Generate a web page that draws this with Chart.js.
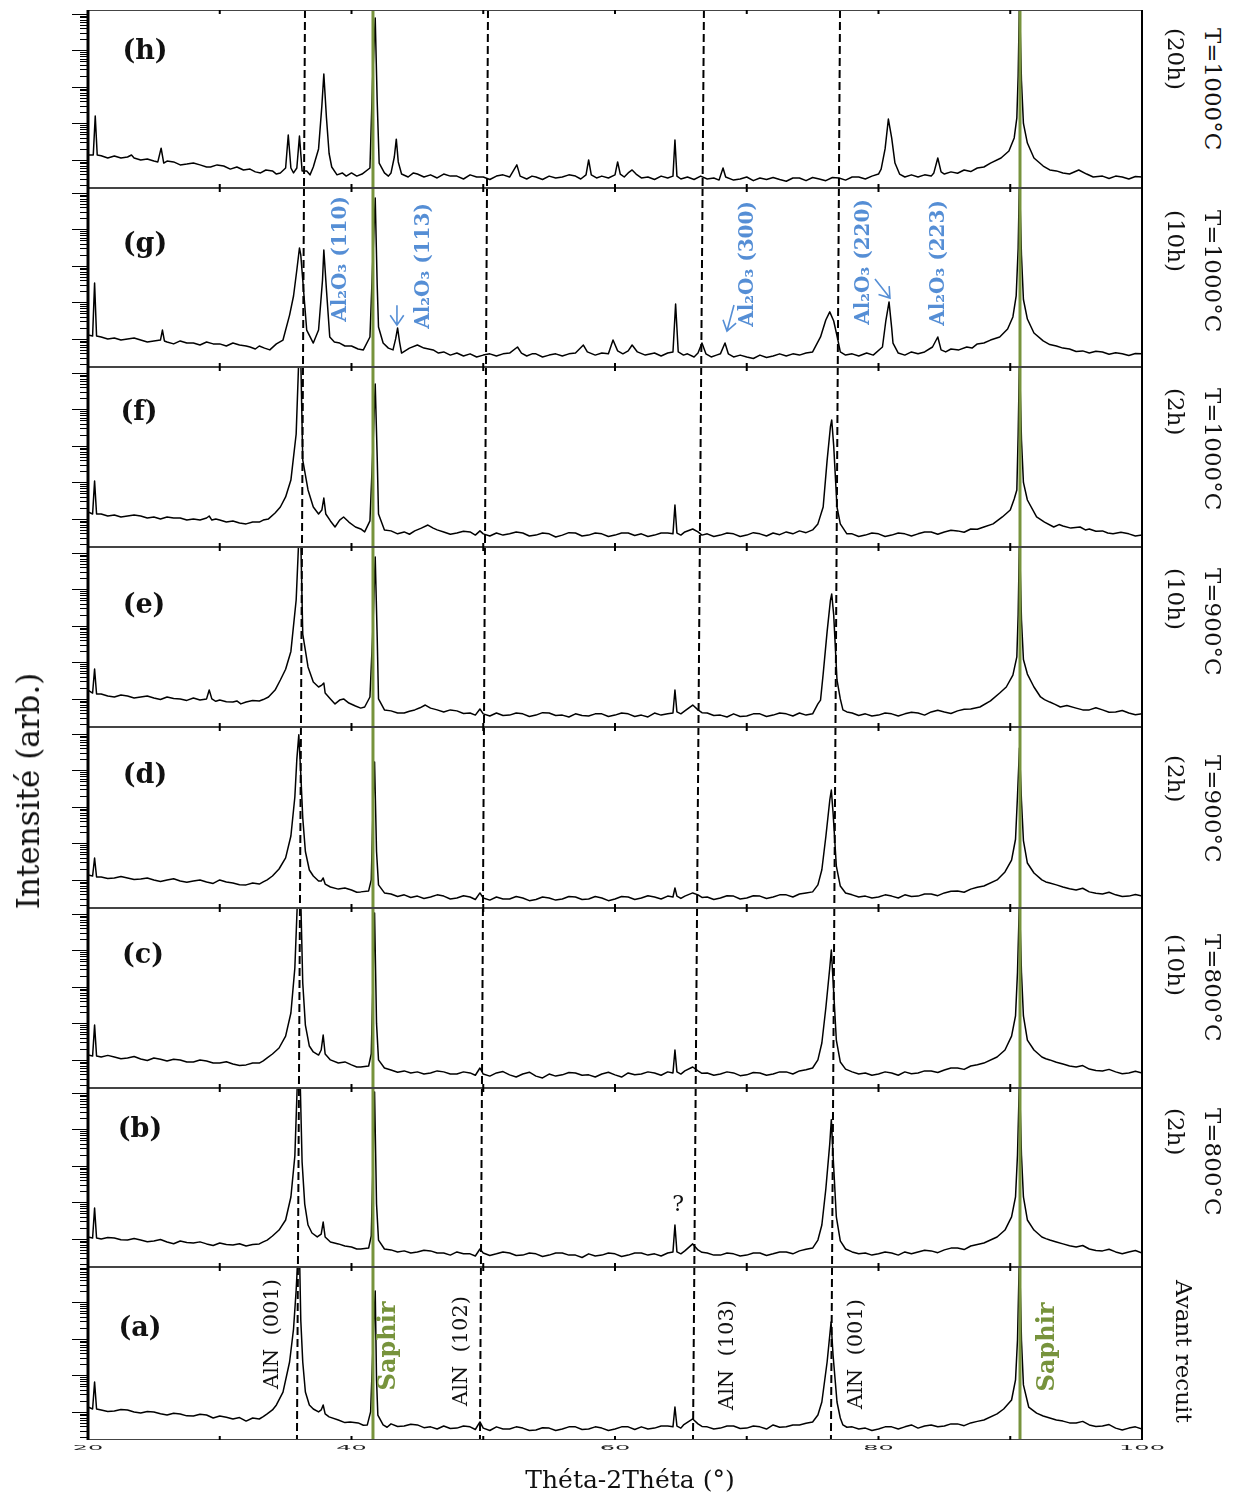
<!DOCTYPE html>
<html>
<head>
<meta charset="utf-8">
<script src="https://cdn.jsdelivr.net/npm/chart.js@4.4.0/dist/chart.umd.min.js"></script>
<style>
  body { margin: 0; background: #fff; width: 1244px; height: 1495px; position: relative; overflow: hidden; font-family: "DejaVu Serif", serif; }
  .panel { position: absolute; left: 0; width: 1180px; }
  .lbl { position: absolute; white-space: nowrap; color: #111; }
</style>
</head>
<body>
<script>
// ---- scans (2theta in degrees, intensity in arb. units, log scale) ----
const scanH = [[20,13.6],[20.4,13.6],[20.55,160],[20.7,13.6],[21,13],[21.5,11.3],[22,12.8],[22.5,11.3],[23,12],[23.3,13.6],[23.5,11.3],[24,10],[24.5,10.6],[25,9.3],[25.3,8.8],[25.55,21],[25.75,8.2],[26,9.3],[26.5,8.8],[27,7.3],[27.5,7.7],[28,8.2],[28.5,7.3],[29,6.4],[29.3,6.4],[29.8,7.3],[30.3,6.8],[30.8,5.6],[31.3,6.4],[31.8,5.3],[32.3,5.6],[32.7,4.7],[33.1,4.4],[33.5,5.3],[34,5],[34.3,4.1],[34.6,4.4],[35,6],[35.2,48],[35.4,6],[35.6,4.4],[35.85,6],[36.05,45],[36.25,5],[36.6,5],[36.85,3.9],[37.1,6.4],[37.5,20],[37.75,300],[37.9,2260],[38.1,141],[38.3,15],[38.5,6.4],[38.9,3.9],[39.3,4.4],[39.6,3.6],[40,4.4],[40.4,3.6],[40.8,4.1],[41.4,6],[41.6,1500],[41.8,77300],[41.95,400],[42.1,8.2],[42.5,4.4],[42.8,3.6],[43,4.4],[43.25,12],[43.4,37],[43.55,8.8],[43.8,4.1],[44.3,3.4],[44.7,4.4],[45,4.1],[45.5,3.4],[46,3.9],[46.5,3.2],[47,4.1],[47.5,3.6],[48,3.6],[48.5,3],[49,3.9],[49.5,3.4],[50,3.4],[50.5,2.9],[51,3.6],[51.5,3.9],[52,3.4],[52.55,7.3],[52.8,3.6],[53.3,3],[53.7,3.6],[54,3.4],[54.5,2.9],[55,3.6],[55.5,3.2],[56,3.4],[56.5,3.9],[57,3.6],[57.4,3],[57.8,3.9],[58,10],[58.2,3.9],[58.6,3.2],[59,3.6],[59.5,3.2],[60,3.9],[60.2,8.8],[60.4,4.1],[60.7,3.4],[61,4.4],[61.3,5.3],[61.6,4.1],[62,3.2],[62.5,3.4],[63,2.9],[63.5,3.6],[64,3.2],[64.4,3.6],[64.55,35],[64.7,3.6],[65,3],[65.5,3.4],[66,2.9],[66.5,3.6],[67,3],[67.5,3.2],[67.9,2.8],[68.2,6],[68.4,3.4],[69,2.8],[69.5,3],[70,3.4],[70.5,2.7],[71,3.2],[71.5,2.9],[72,3.3],[72.5,2.9],[73,2.6],[73.5,3.2],[74,3.2],[74.5,2.7],[75,3.3],[75.5,3],[76,2.7],[76.5,3.3],[77,3.2],[77.5,2.8],[78,3.4],[78.5,3.4],[79,3],[79.5,3.6],[80,4.1],[80.2,5.6],[80.5,20],[80.75,132],[81,40],[81.25,8.2],[81.6,4.1],[82,3.4],[82.5,3.9],[83,3.4],[83.5,3.9],[84,3.6],[84.2,4.4],[84.5,11.3],[84.75,4.7],[85,4.1],[85.5,4.7],[86,4.3],[86.5,5.3],[87,4.8],[87.5,6],[88,6.4],[88.5,8.2],[89.3,11.3],[89.9,17.5],[90.3,40],[90.5,141],[90.6,2000],[90.7,250000],[90.85,1500],[91,100],[91.3,29],[91.8,11.3],[92.5,6.8],[93,5.3],[93.5,5],[94,4.4],[94.5,4.1],[95.2,5.3],[95.8,4.1],[96.3,3.4],[97,3.6],[97.5,3.1],[98,3.6],[98.5,3.4],[99,3],[99.5,3.5],[100,3.4]];

const scanG = [[20,12.8],[20.35,12],[20.5,340],[20.65,12],[21,11.3],[21.5,10],[22,10.6],[22.5,9.3],[23,10],[23.5,10.6],[24,9.3],[24.5,8.2],[25,8.8],[25.5,9.3],[25.65,17.5],[25.8,8.8],[26,8.2],[26.5,7.3],[27,8.8],[27.5,7.7],[28,7.7],[28.5,6.8],[29,8.2],[29.5,7.3],[30,7.3],[30.5,6.4],[31,7.7],[31.5,6.8],[32,6.4],[32.3,6],[32.7,5.3],[33,6.4],[33.4,5.6],[33.8,5],[34.3,7.3],[34.8,9.3],[35.3,45],[35.6,150],[35.85,773],[36.05,3100],[36.15,2000],[36.3,411],[36.6,17.5],[37.1,7.7],[37.5,17.5],[37.8,411],[37.9,2730],[38.1,219],[38.35,11.3],[38.7,8.2],[39.1,7.7],[39.5,6.4],[40,6.4],[40.5,5.3],[40.9,5],[41.4,11.3],[41.6,1000],[41.8,72600],[41.95,300],[42.05,21.2],[42.4,7.7],[42.8,5.6],[43.15,5],[43.35,10],[43.5,19.9],[43.65,8.2],[43.8,4.1],[44.4,5.6],[45,6.8],[45.5,5.6],[46.2,5],[46.6,4.1],[47,4.4],[47.5,3.6],[48,4.1],[48.5,3.4],[49,3.9],[49.5,3.2],[50,3.6],[50.5,3.9],[51,3.4],[51.5,3.9],[52,4.1],[52.6,6],[52.9,4.1],[53.3,3.4],[53.7,3.9],[54,3.9],[54.5,3.2],[55,3.6],[55.5,3.9],[56,3.4],[56.5,3.9],[57,4.1],[57.6,6.8],[57.9,4.4],[58.5,3.6],[59,4.1],[59.5,3.9],[59.85,9.3],[60.2,4.7],[60.6,3.9],[61,4.7],[61.3,6.8],[61.7,4.4],[62.3,3.6],[63,4.1],[63.5,3.4],[64,4.1],[64.4,4.4],[64.6,90],[64.8,4.4],[65.2,3.6],[65.5,3.9],[66,3.2],[66.3,4.1],[66.6,7.7],[66.9,3.9],[67.3,3.2],[67.7,3.6],[68,3.9],[68.35,7.7],[68.6,3.9],[69,3.2],[69.5,3.6],[70,3.2],[70.5,2.9],[71,3.6],[71.5,3.1],[72,3.4],[72.5,3.9],[73,3.4],[73.5,3.9],[74,3.6],[74.5,4.1],[75,4.4],[75.6,11.3],[76,33],[76.3,55],[76.6,31],[76.9,10],[77.1,4.4],[77.5,3.6],[78,3.9],[78.5,3.4],[79.1,4.1],[79.6,3.6],[80.3,6],[80.55,30],[80.8,103],[81,20],[81.1,7.7],[81.5,4.1],[82,3.6],[82.5,4.4],[83,3.9],[83.5,4.4],[84.1,6],[84.5,11.3],[84.75,5],[85.1,4.4],[85.5,5.3],[86.1,5],[86.7,6],[87.1,5.6],[87.5,7.3],[88,7.7],[88.5,9.3],[89.2,11.3],[89.8,18.7],[90.2,40],[90.45,150],[90.6,3000],[90.7,250000],[90.85,2000],[91,120],[91.3,35],[91.8,14.5],[92.5,8.8],[93,7],[93.5,6.4],[94,5.6],[94.5,5.3],[95,4.5],[95.5,4.7],[96,4.1],[96.5,4.6],[97,4.4],[97.5,3.8],[98,4.2],[98.5,3.9],[99,3.5],[99.5,4],[100,3.9]];

const scanF = [[20,15.5],[20.35,13.6],[20.5,109],[20.65,13.6],[21,13.6],[21.5,12],[22,12.8],[22.5,11.3],[23,12],[23.5,12.8],[24,12],[24.5,10.6],[25,11.3],[25.5,10],[26,11.3],[26.5,10.6],[27,10.6],[27.5,9.3],[28,10],[28.5,9.3],[29,10.6],[29.2,12],[29.4,9.3],[29.7,10],[30,9.3],[30.5,8.2],[31,8.8],[31.5,7.7],[32,7.3],[32.5,8.2],[33,8.2],[33.3,9.3],[33.7,10],[34.2,14.5],[34.6,21.2],[35,40],[35.4,116],[35.8,2120],[36,250000],[36.15,250000],[36.3,411],[36.7,62],[37.1,21.2],[37.5,13.6],[37.75,17.5],[37.9,37.4],[38.05,13.6],[38.4,8.8],[38.75,6],[39.1,9.3],[39.4,11.3],[39.8,8.2],[40.3,6],[40.7,5.3],[41,4.4],[41.4,8.8],[41.6,500],[41.8,49700],[41.95,500],[42.05,13.6],[42.5,5],[43,4.7],[43.5,3.9],[44,4.4],[44.4,3.8],[44.8,4.7],[45.3,5.6],[45.8,6.8],[46.2,5.6],[46.5,5],[47,4.4],[47.5,3.8],[48,4.1],[48.5,4.6],[49,4.4],[49.4,3.6],[49.75,4.7],[50,3.9],[50.5,3.4],[51,4.1],[51.5,3.6],[52,3.9],[52.5,4.4],[53,4.1],[53.5,3.4],[54,3.6],[54.5,4.1],[55,3.9],[55.5,3.2],[56,3.6],[56.5,4.2],[57,4.1],[57.5,3.4],[58,3.6],[58.5,4.1],[59,3.9],[59.5,3.3],[60,3.6],[60.5,4.1],[61,4.1],[61.5,3.5],[62,3.9],[62.5,3.3],[63,3.6],[63.5,4.1],[64,4.1],[64.4,3.9],[64.55,24],[64.7,4.1],[65,3.6],[65.3,4.4],[65.9,5.3],[66.3,4.4],[66.6,3.6],[67,3.9],[67.5,3.3],[68,3.6],[68.5,4.1],[69,3.9],[69.5,3.3],[70,3.6],[70.5,4.2],[71,3.9],[71.5,3.4],[72,4.1],[72.5,3.7],[73,4.4],[73.5,3.9],[74,4.7],[74.5,4.2],[75,5],[75.4,7.3],[75.8,21.2],[76.1,400],[76.35,3300],[76.45,5130],[76.6,1000],[76.85,21.2],[77.1,7.3],[77.6,3.9],[78,3.9],[78.5,3.3],[79,3.6],[79.5,4.1],[80,3.9],[80.5,3.3],[81,3.6],[81.5,4.1],[82,3.9],[82.5,3.4],[83,3.9],[83.5,4.4],[84,4.4],[84.5,3.8],[85,4.4],[85.5,4.9],[86,4.7],[86.5,4.3],[87,5.3],[87.5,5.2],[88,6],[88.7,7.3],[89.4,11.3],[90,17.5],[90.3,35],[90.5,62],[90.6,2000],[90.7,250000],[90.85,1500],[91,100],[91.3,33],[92,11.3],[92.6,8.2],[93.3,6],[93.7,7],[94,6.4],[94.6,5.6],[95.3,6],[95.7,5],[96,5.3],[96.5,4.6],[97,4.7],[97.4,4.1],[97.8,3.9],[98.4,4.3],[99,3.9],[99.5,3.4],[100,3.6]];

const scanE = [[20,17.5],[20.35,14.5],[20.5,66],[20.65,13.6],[21,13.6],[21.5,12],[22,11.3],[22.5,12.8],[23,12],[23.5,10.6],[24,11.3],[24.5,12],[25,10.6],[25.5,9.6],[26,11.3],[26.5,10.2],[27,10],[27.5,9.1],[28,10.6],[28.5,9.3],[29,10],[29.2,17.5],[29.4,10],[29.7,8.6],[30,9.3],[30.5,8.4],[31,8.2],[31.3,8.8],[31.6,7.3],[32,8.2],[32.5,9],[33,8.8],[33.3,9.6],[33.7,11.3],[34.2,17.5],[34.6,33],[35,65],[35.4,200],[35.8,5130],[36,250000],[36.15,250000],[36.3,600],[36.7,75],[37.1,29],[37.5,21.2],[37.75,24],[37.9,27.3],[38,14.5],[38.4,10],[38.75,7.3],[39.1,9.3],[39.4,10],[39.8,7.7],[40.3,6.4],[40.7,5.6],[41,6],[41.4,11.3],[41.6,500],[41.8,77300],[41.95,500],[42.05,10],[42.5,5],[43,4.7],[43.5,4.1],[44,4.1],[44.4,4.6],[44.8,5],[45.2,5.7],[45.6,6.8],[46,5.6],[46.5,5],[47,4.4],[47.5,5],[48,4.7],[48.5,4],[49,4.1],[49.4,3.6],[49.75,5.3],[50,3.9],[50.5,3.4],[51,4.1],[51.5,3.5],[52,3.6],[52.5,4.1],[53,3.9],[53.5,3.3],[54,3.6],[54.5,4.2],[55,4.1],[55.5,3.5],[56,3.6],[56.5,3.2],[57,3.9],[57.5,3.5],[58,3.4],[58.5,3.9],[59,3.9],[59.5,3.3],[60,3.6],[60.5,4.1],[61,3.9],[61.5,3.3],[62,3.6],[62.5,3.2],[63,4.1],[63.5,3.6],[64,3.9],[64.4,4.1],[64.55,17.5],[64.7,4.4],[65,3.9],[65.3,4.7],[65.9,6.8],[66.3,5],[66.6,4.2],[67,4.1],[67.5,3.5],[68,3.6],[68.5,3.2],[69,3.9],[69.5,3.3],[70,3.4],[70.5,3.9],[71,3.9],[71.5,3.3],[72,3.6],[72.5,4.1],[73,3.9],[73.5,3.4],[74,4.1],[74.5,3.6],[75,3.9],[75.4,7.3],[75.6,9.3],[75.8,48],[76.1,700],[76.35,5000],[76.45,7490],[76.6,2000],[76.85,33],[77.1,10],[77.3,5],[77.6,4.4],[78,4.1],[78.5,3.5],[79,3.9],[79.5,3.4],[80,3.6],[80.5,4.1],[81,3.9],[81.5,3.4],[82,3.9],[82.5,4.3],[83,4.1],[83.5,3.6],[84,4.4],[84.5,4.9],[85,4.4],[85.5,4],[86,4.7],[86.5,5.2],[87,5.3],[87.7,6],[88.5,8.8],[89.2,14.5],[89.7,21.2],[90.2,45],[90.5,141],[90.6,2000],[90.7,250000],[90.85,1500],[91,120],[91.3,48],[91.8,21.2],[92.3,11.3],[92.6,9.6],[93,8.2],[93.4,7.1],[93.8,6],[94.3,6.6],[95,5.6],[95.5,5],[96,5],[96.5,5.7],[97,5],[97.5,4.3],[98,4.4],[98.5,4.8],[99,4.1],[99.5,3.7],[100,3.9]];

const scanD = [[20,13.6],[20.35,12.8],[20.5,39.8],[20.65,12],[21,12],[21.5,11],[22,11.3],[22.5,12.4],[23,11.3],[23.5,10.2],[24,10.6],[24.5,11.3],[25,10],[25.5,9.1],[26,10],[26.5,10.8],[27,9.3],[27.5,8.6],[28,9.3],[28.5,10],[29,8.8],[29.5,8],[30,10],[30.5,8.8],[31,8.2],[31.5,7.4],[32,7.3],[32.5,8.2],[33,7.7],[33.3,8.8],[33.6,10],[34,12.8],[34.5,19.9],[35,40],[35.4,160],[35.7,1870],[35.85,20000],[36,95000],[36.15,8000],[36.3,500],[36.5,60],[36.8,18.7],[37.1,12.8],[37.5,9.3],[37.7,9.3],[37.85,11.3],[38,7.7],[38.4,6.4],[39,5.6],[39.5,6],[40,5.3],[40.4,4.6],[40.7,4.7],[41.3,5],[41.5,10],[41.65,1500],[41.75,17000],[41.9,60],[42.05,7.3],[42.5,4.4],[43,4.1],[43.5,3.5],[44,3.9],[44.5,3.3],[45,3.6],[45.5,3.1],[46,3.4],[46.5,3.9],[47,3.6],[47.5,3],[48,3.2],[48.5,3.7],[49,3.4],[49.4,2.9],[49.75,4.4],[50,3.2],[50.5,2.8],[51,3.4],[51.5,3],[52,3],[52.5,3.5],[53,3.2],[53.5,2.7],[54,2.9],[54.5,3.4],[55,3.2],[55.5,2.8],[56,3],[56.5,3.5],[57,3.4],[57.5,2.9],[58,3],[58.5,3.5],[59,3.2],[59.5,2.7],[60,3],[60.5,3.5],[61,3.4],[61.5,2.9],[62,3.2],[62.5,3.7],[63,3.4],[63.5,3],[64,3.6],[64.4,3.4],[64.55,6],[64.7,3.6],[65,3.1],[65.3,3.6],[65.9,4.4],[66.3,3.9],[66.6,3.3],[67,3.4],[67.5,2.9],[68,3.2],[68.5,3.7],[69,3.6],[69.5,3],[70,3.2],[70.5,3.7],[71,3.6],[71.5,3.1],[72,3.4],[72.5,3.9],[73,3.9],[73.5,3.4],[74,4.1],[74.5,4.4],[75,4.7],[75.4,7.3],[75.7,19],[76,150],[76.3,1500],[76.42,2900],[76.55,700],[76.8,24],[77.1,6.8],[77.5,4.4],[78,3.9],[78.5,3.4],[79,3.6],[79.5,3.2],[80,3.4],[80.5,3.9],[81,3.6],[81.5,3.2],[82,3.9],[82.5,3.5],[83,3.6],[83.5,4.1],[84,4.1],[84.5,3.7],[85,4.4],[85.5,4.9],[86,5],[86.5,4.6],[87,5.6],[87.5,6.3],[88,6.8],[89,10],[89.6,16.5],[90.1,35],[90.4,130],[90.55,2000],[90.7,41000],[90.85,1500],[91,120],[91.3,29],[91.8,15.5],[92.4,10],[92.7,8.8],[93,8.2],[93.5,7.3],[94,6.4],[94.5,5.7],[95,5.3],[95.5,5.9],[96,4.7],[96.5,4.3],[97,4.1],[97.5,4.6],[98,3.9],[98.5,3.5],[99,3.6],[99.5,4],[100,3.6]];

const scanC = [[20,13.6],[20.35,12.8],[20.5,90],[20.65,12.8],[21,12],[21.5,13.3],[22,12],[22.5,10.8],[23,11.3],[23.5,12.4],[24,10.6],[24.5,9.6],[25,11.3],[25.5,10.4],[26,9.3],[26.5,10.4],[27,10],[27.5,8.8],[28,8.8],[28.5,9.9],[29,9.3],[29.5,8.2],[30,8.2],[30.5,8.9],[31,7.7],[31.5,7],[32,7.3],[32.5,8.2],[33,8.2],[33.3,9.4],[33.6,11.3],[34,14.5],[34.5,21.2],[35,45],[35.4,193],[35.7,3300],[35.9,250000],[36.15,250000],[36.3,1280],[36.5,90],[36.8,24],[37.1,16.5],[37.5,13.6],[37.7,18.7],[37.85,48],[38,14.5],[38.4,10],[39,8.2],[39.5,8.8],[40,7.3],[40.4,6.4],[40.7,6.4],[41.3,6.8],[41.5,14.5],[41.65,2500],[41.75,106000],[41.9,100],[42.05,10],[42.5,6],[43,5.3],[43.5,4.6],[44,5],[44.5,4.4],[45,4.7],[45.5,4.1],[46,4.4],[46.5,5],[47,4.7],[47.5,4.1],[48,4.1],[48.5,4.7],[49,4.4],[49.4,3.8],[49.75,6],[50,4.1],[50.5,3.6],[51,4.4],[51.5,4.8],[52,3.9],[52.5,3.4],[53,4.1],[53.5,4.6],[54,3.6],[54.5,3.2],[55,4.1],[55.5,3.6],[56,3.9],[56.5,4.5],[57,4.4],[57.5,3.8],[58,3.9],[58.5,3.4],[59,4.1],[59.5,4.6],[60,3.9],[60.5,3.4],[61,4.4],[61.5,3.9],[62,4.1],[62.5,4.7],[63,4.4],[63.5,3.8],[64,4.7],[64.4,4.4],[64.55,18.7],[64.7,4.7],[65,4.1],[65.3,5],[65.9,6.4],[66.3,5],[66.6,4.3],[67,4.4],[67.5,3.8],[68,4.1],[68.5,4.7],[69,4.4],[69.5,3.7],[70,3.9],[70.5,4.5],[71,4.4],[71.5,3.8],[72,4.1],[72.5,4.7],[73,4.7],[73.5,4.1],[74,5],[74.5,5.4],[75,6],[75.4,10],[75.7,29],[76,260],[76.3,3300],[76.42,10260],[76.55,1500],[76.8,35],[77.1,8.8],[77.5,5.6],[78,4.7],[78.5,4.1],[79,4.4],[79.5,3.8],[80,4.1],[80.5,4.7],[81,4.4],[81.5,3.8],[82,4.7],[82.5,4.2],[83,4.4],[83.5,5],[84,5],[84.5,4.5],[85,5.3],[85.5,6],[86,6],[86.5,5.5],[87,6.8],[87.5,7.4],[88,8.2],[89,12],[89.6,18.7],[90.1,45],[90.4,160],[90.55,2500],[90.7,250000],[90.85,2500],[91,160],[91.3,35],[91.8,18.7],[92.4,12],[92.7,10.8],[93,10],[93.5,8.6],[94,7.7],[94.5,6.8],[95,6.4],[95.5,7],[96,5.6],[96.5,5.1],[97,5],[97.5,5.5],[98,4.7],[98.5,4.2],[99,4.4],[99.5,4.9],[100,4.4]];

const scanB = [[20,11.3],[20.35,10.6],[20.5,70],[20.65,10.6],[21,10],[21.5,11],[22,10.6],[22.5,9.5],[23,9.3],[23.5,10.2],[24,9.3],[24.5,8.4],[25,8.8],[25.5,9.6],[26,8.2],[26.5,7.4],[27,8.8],[27.5,8],[28,7.7],[28.5,8.3],[29,7.3],[29.5,6.6],[30,7.7],[30.5,7],[31,6.8],[31.5,7.4],[32,6.4],[32.5,7],[33,7.3],[33.3,8.3],[33.6,9.3],[34,12],[34.5,17.5],[35,33],[35.4,141],[35.7,1870],[35.9,250000],[36.1,250000],[36.25,1280],[36.45,90],[36.7,24],[37,14.5],[37.4,11.3],[37.7,13.6],[37.85,29],[38,11.3],[38.4,8.2],[39,7.3],[39.5,6.4],[40,6],[40.4,5.3],[40.7,5.3],[41.3,5.6],[41.5,12],[41.65,2000],[41.75,106000],[41.9,90],[42.05,9.3],[42.5,5.3],[43,5],[43.5,4.4],[44,4.7],[44.5,4.1],[45,4.4],[45.5,4.9],[46,4.7],[46.5,4.1],[47,4.1],[47.5,3.6],[48,4.4],[48.5,3.9],[49,3.9],[49.4,3.4],[49.75,5.3],[50,4.1],[50.5,3.5],[51,3.9],[51.5,4.4],[52,4.1],[52.5,3.5],[53,3.6],[53.5,4.1],[54,3.9],[54.5,3.3],[55,3.6],[55.5,4.1],[56,4.1],[56.5,3.6],[57,3.6],[57.5,3.1],[58,3.9],[58.5,3.4],[59,3.6],[59.5,4.1],[60,3.9],[60.5,3.3],[61,3.6],[61.5,4.1],[62,4.1],[62.5,3.6],[63,3.9],[63.5,3.4],[64,4.1],[64.4,4.4],[64.55,24],[64.7,4.4],[65,3.9],[65.3,4.7],[65.9,7.3],[66.3,5],[66.6,4.3],[67,4.1],[67.5,3.6],[68,3.6],[68.5,4.1],[69,3.9],[69.5,3.4],[70,3.6],[70.5,4.1],[71,4.1],[71.5,3.5],[72,3.9],[72.5,4.4],[73,4.4],[73.5,3.9],[74,4.7],[74.5,5.2],[75,5.6],[75.4,9.3],[75.7,24],[76,230],[76.3,4000],[76.42,18500],[76.55,2000],[76.8,40],[77.1,8.8],[77.5,5.3],[78,4.4],[78.5,3.9],[79,4.1],[79.5,3.6],[80,3.9],[80.5,4.4],[81,4.1],[81.5,3.6],[82,4.4],[82.5,3.9],[83,4.4],[83.5,4.9],[84,4.7],[84.5,4.2],[85,5],[85.5,5.6],[86,5.6],[86.5,5.1],[87,6.4],[87.5,7],[88,7.7],[89,11.3],[89.6,17.5],[90.1,40],[90.4,141],[90.55,2000],[90.7,250000],[90.85,2000],[91,141],[91.3,33],[91.8,17.5],[92.4,11.3],[92.7,10.2],[93,9.3],[93.5,8.2],[94,7.3],[94.5,6.5],[95,6],[95.5,6.6],[96,5.3],[96.5,4.8],[97,4.7],[97.5,5.2],[98,4.4],[98.5,3.9],[99,4.4],[99.5,4.8],[100,4.1]];

const scanA = [[20,13.6],[20.35,12],[20.5,66],[20.65,12],[21,11.3],[21.5,10.2],[22,10.6],[22.5,11.6],[23,11.3],[23.5,10],[24,9.3],[24.5,10.2],[25,10],[25.5,8.9],[26,8.2],[26.5,9.2],[27,8.8],[27.5,7.8],[28,7.7],[28.5,8.6],[29,8.2],[29.5,6.8],[30,7.7],[30.5,7.1],[31,6.4],[31.5,7],[32,5.6],[32.5,6.8],[33,6.4],[33.3,7.4],[33.6,8.8],[34,11.3],[34.3,15.5],[34.8,35],[35.3,233],[35.6,1870],[35.8,21900],[35.95,250000],[36.05,250000],[36.15,3300],[36.3,233],[36.5,35],[36.8,15.5],[37.1,12],[37.5,10],[37.7,11.3],[37.85,15.5],[38,8.8],[38.3,7.3],[39,6],[39.5,5.1],[39.9,5.3],[40.5,5],[40.9,4.3],[41.2,4.4],[41.45,10],[41.65,933],[41.8,20550],[41.9,75],[42,8.2],[42.4,4.4],[42.7,3.8],[43,4.7],[43.5,4],[44,4.1],[44.5,4.6],[45,4.4],[45.5,3.7],[46,3.9],[46.5,3.4],[47,4.1],[47.5,3.5],[48,3.6],[48.5,4.1],[49,3.9],[49.4,3.3],[49.75,5.3],[50,3.6],[50.5,3.1],[51,3.9],[51.5,3.4],[52,3.4],[52.5,3.9],[53,3.6],[53.5,3.1],[54,3.2],[54.5,3.7],[55,3.6],[55.5,3.1],[56,3.4],[56.5,3.9],[57,3.9],[57.5,3.3],[58,3.4],[58.5,3.9],[59,3.6],[59.5,3.1],[60,3.4],[60.5,3.9],[61,3.9],[61.5,3.3],[62,3.9],[62.5,3.4],[63,3.6],[63.5,4.1],[64,4.1],[64.4,3.9],[64.55,13.6],[64.7,4.1],[65,3.6],[65.2,4.4],[65.9,6.4],[66.3,4.7],[66.6,4],[67,3.9],[67.5,3.4],[68,3.6],[68.5,4.1],[69,4.1],[69.5,3.5],[70,3.6],[70.5,4.1],[71,3.9],[71.5,3.4],[72,4.4],[72.5,3.8],[73,3.9],[73.5,4.4],[74,4.4],[74.5,4.9],[75,5.3],[75.4,8.2],[75.7,18.7],[76.1,233],[76.4,2900],[76.55,362],[76.85,18.7],[77.1,6.8],[77.3,4.4],[77.6,3.8],[78,3.9],[78.5,3.4],[79,3.6],[79.5,3.1],[80,3.4],[80.5,3.9],[81,3.9],[81.5,3.4],[82,3.9],[82.5,4.4],[83,3.6],[83.5,4.1],[84,4.4],[84.5,3.9],[85,4.1],[85.5,4.7],[86,4.7],[86.5,4.2],[87,5],[87.5,5.5],[88,6],[89,8.8],[89.5,12],[90.1,21.2],[90.4,75],[90.55,933],[90.7,250000],[90.85,933],[91,55],[91.4,13.6],[92,9.3],[92.5,7.7],[93,6.8],[93.5,6],[94,5.6],[94.5,5],[95,5],[95.5,5.5],[96,4.4],[96.5,4],[97,4.1],[97.5,4.5],[98,3.6],[98.5,3.2],[99,3.6],[99.5,3.9],[100,3.4]];

// panel order from top to bottom
const scans = [scanH, scanG, scanF, scanE, scanD, scanC, scanB, scanA];
const panelLetters = ['(h)', '(g)', '(f)', '(e)', '(d)', '(c)', '(b)', '(a)'];
const tempLabels = ['T=1000°C', 'T=1000°C', 'T=1000°C', 'T=900°C', 'T=900°C', 'T=800°C', 'T=800°C', 'Avant recuit'];
const timeLabels = ['(20h)', '(10h)', '(2h)', '(10h)', '(2h)', '(10h)', '(2h)', ''];
const xTickLabels = [20, 40, 60, 80, 100];

// reference lines (degrees)
const sapphireLines = [41.63, 90.74];
const dashedLines = [[36.47, 35.86], [50.36, 49.75], [66.75, 65.92], [77.08, 76.39]]; // [top of figure, bottom of figure]

// layout
const panelEdges = [10, 188, 367, 547, 727, 908, 1088, 1267, 1440];
const Y_MIN = 1.7;
const DECADE_PX = 36.5;
const GREEN = '#77933C';
const BLUE = '#558ED5';
const letterPos = [[57, 42], [57, 57], [51, 46], [56, 59], [57, 49], [55, 48], [52, 42], [52, 62]];
const rightStart = [18, 22, 21, 21, 28, 26, 20, 13];

const notes = {
  7: [
    { text: 'AlN  (001)', deg: 33.97, dy: 67 },
    { text: 'Saphir', deg: 42.85, dy: 79, color: GREEN, bold: true },
    { text: 'AlN  (102)', deg: 48.39, dy: 84 },
    { text: 'AlN  (103)', deg: 68.58, dy: 88 },
    { text: 'AlN  (001)', deg: 78.37, dy: 87 },
    { text: 'Saphir', deg: 92.87, dy: 80, color: GREEN, bold: true }
  ],
  1: [
    { text: 'Al₂O₃ (110)', deg: 39.2, dy: 71, color: BLUE, bold: true },
    { text: 'Al₂O₃ (113)', deg: 45.5, dy: 78, color: BLUE, bold: true },
    { text: 'Al₂O₃ (300)', deg: 70.1, dy: 76, color: BLUE, bold: true },
    { text: 'Al₂O₃ (220)', deg: 78.9, dy: 74, color: BLUE, bold: true },
    { text: 'Al₂O₃ (223)', deg: 84.6, dy: 75, color: BLUE, bold: true }
  ]
};
// arrows in panel (g): tip in data coords, tail as pixel offset
const arrowsG = [
  { tip: [43.45, 21], tail: [0, -20] },
  { tip: [68.5, 14.5], tail: [7, -26] },
  { tip: [80.87, 116], tail: [-15, -19] }
];

function rotText(ctx, text, cx, cy, font, color) {
  ctx.save();
  ctx.translate(cx, cy);
  ctx.rotate(-Math.PI / 2);
  ctx.font = font;
  ctx.fillStyle = color;
  ctx.textAlign = 'center';
  ctx.textBaseline = 'middle';
  ctx.fillText(text, 0, 0);
  ctx.restore();
}

function makePlugin(idx) {
  const t = panelEdges[idx], b = panelEdges[idx + 1];
  const span = panelEdges[8] - panelEdges[0];
  return {
    id: 'panel' + idx,
    beforeDatasetsDraw(chart) {
      const { ctx, chartArea: a, scales: { x } } = chart;
      ctx.save();
      ctx.strokeStyle = '#000';
      ctx.lineWidth = 2;
      ctx.setLineDash([8, 4]);
      dashedLines.forEach(([d0, d1]) => {
        const dt = d0 + (d1 - d0) * (t - panelEdges[0]) / span;
        const db = d0 + (d1 - d0) * (b - panelEdges[0]) / span;
        ctx.beginPath();
        ctx.moveTo(x.getPixelForValue(dt), a.top);
        ctx.lineTo(x.getPixelForValue(db), a.bottom);
        ctx.stroke();
      });
      ctx.restore();
    },
    afterDatasetsDraw(chart) {
      const { ctx, chartArea: a, scales: { x, y } } = chart;
      ctx.save();
      // sapphire reference lines
      ctx.strokeStyle = GREEN;
      ctx.lineWidth = 3;
      sapphireLines.forEach(d => {
        const px = x.getPixelForValue(d);
        ctx.beginPath();
        ctx.moveTo(px, a.top);
        ctx.lineTo(px, a.bottom);
        ctx.stroke();
      });

      // frame
      ctx.strokeStyle = '#444';
      ctx.lineWidth = 1;
      ctx.strokeRect(a.left + 0.5, a.top + 0.5, a.right - a.left - 1, a.bottom - a.top - 1);
      ctx.strokeStyle = '#000';
      ctx.lineWidth = 3;
      ctx.beginPath();
      ctx.moveTo(a.left, a.top);
      ctx.lineTo(a.left, a.bottom);
      ctx.stroke();
      ctx.lineWidth = 2;
      ctx.beginPath();
      ctx.moveTo(a.right, a.top);
      ctx.lineTo(a.right, a.bottom);
      ctx.stroke();

      // log ticks on the left
      ctx.lineWidth = 1;
      for (let k = 0; k <= 6; k++) {
        for (let m = 1; m <= 9; m++) {
          const v = m * Math.pow(10, k);
          if (v < y.min || v > y.max) continue;
          const py = Math.round(y.getPixelForValue(v)) + 0.5;
          ctx.beginPath();
          ctx.moveTo(a.left - (m === 1 ? 16 : 8), py);
          ctx.lineTo(a.left, py);
          ctx.stroke();
        }
      }
      // small x ticks, top and bottom
      ctx.lineWidth = 2;
      for (let d = 30; d <= 90; d += 10) {
        const px = x.getPixelForValue(d);
        ctx.beginPath();
        ctx.moveTo(px, a.top); ctx.lineTo(px, a.top + 4);
        ctx.moveTo(px, a.bottom); ctx.lineTo(px, a.bottom - 4);
        ctx.stroke();
      }

      // panel letter
      ctx.font = 'bold 27px "DejaVu Serif"';
      ctx.fillStyle = '#111';
      ctx.textAlign = 'center';
      ctx.textBaseline = 'middle';
      ctx.fillText(panelLetters[idx], a.left + letterPos[idx][0], a.top + letterPos[idx][1]);

      // rotated notes
      (notes[idx] || []).forEach(n => {
        const font = (n.bold ? 'bold ' : '') + (idx === 1 ? '20px' : (n.bold ? '24px' : '21px')) + ' "DejaVu Serif"';
        rotText(ctx, n.text, x.getPixelForValue(n.deg), a.top + n.dy, font, n.color || '#111');
      });

      if (idx === 1) {
        ctx.strokeStyle = BLUE;
        ctx.lineWidth = 1.6;
        arrowsG.forEach(ar => {
          const tx = x.getPixelForValue(ar.tip[0]);
          const ty = y.getPixelForValue(ar.tip[1]) - 2;
          const sx = tx + ar.tail[0], sy = ty + ar.tail[1];
          const ang = Math.atan2(ty - sy, tx - sx);
          ctx.beginPath();
          ctx.moveTo(sx, sy);
          ctx.lineTo(tx, ty);
          ctx.moveTo(tx - 12 * Math.cos(ang - 0.6), ty - 12 * Math.sin(ang - 0.6));
          ctx.lineTo(tx, ty);
          ctx.lineTo(tx - 12 * Math.cos(ang + 0.6), ty - 12 * Math.sin(ang + 0.6));
          ctx.stroke();
        });
      }
      if (idx === 6) {
        ctx.font = '22px "DejaVu Serif"';
        ctx.fillStyle = '#111';
        ctx.fillText('?', x.getPixelForValue(64.8), a.top + 117);
      }
      if (idx === 7) {
        // flattened x tick labels under the last panel
        ctx.font = '24px "DejaVu Sans"';
        ctx.fillStyle = '#222';
        xTickLabels.forEach(v => {
          ctx.save();
          ctx.translate(x.getPixelForValue(v), a.bottom + 8);
          ctx.scale(1, 0.3);
          ctx.fillText(String(v), 0, 0);
          ctx.restore();
        });
      }
      ctx.restore();
    }
  };
}

scans.forEach((scan, idx) => {
  const t = panelEdges[idx], b = panelEdges[idx + 1];
  const padBottom = idx === 7 ? 30 : 20;
  const box = document.createElement('div');
  box.className = 'panel';
  box.style.top = (t - 20) + 'px';
  box.style.height = (b - t + 20 + padBottom) + 'px';
  const canvas = document.createElement('canvas');
  box.appendChild(canvas);
  document.body.appendChild(box);

  new Chart(canvas, {
    type: 'line',
    data: {
      datasets: [{
        data: scan.map(([deg, val]) => ({ x: deg, y: val })),
        borderColor: '#000',
        borderWidth: 1.5,
        borderJoinStyle: 'round',
        pointRadius: 0,
        tension: 0,
        fill: false
      }]
    },
    options: {
      animation: false,
      responsive: true,
      maintainAspectRatio: false,
      layout: { padding: { left: 88, right: 38, top: 20, bottom: padBottom } },
      plugins: { legend: { display: false }, tooltip: { enabled: false } },
      scales: {
        x: { type: 'linear', min: 20, max: 100, display: false },
        y: { type: 'logarithmic', min: Y_MIN, max: Y_MIN * Math.pow(10, (b - t) / DECADE_PX), display: false }
      }
    },
    plugins: [makePlugin(idx)]
  });

  // right-hand annealing labels, rotated clockwise
  const y0 = t + rightStart[idx];
  const addRot = (text, cx) => {
    const d = document.createElement('div');
    d.className = 'lbl';
    d.textContent = text;
    Object.assign(d.style, {
      left: (cx + 12) + 'px', top: y0 + 'px', font: '23px "DejaVu Serif"', lineHeight: '24px',
      transform: 'rotate(90deg)', transformOrigin: '0 0'
    });
    document.body.appendChild(d);
  };
  if (timeLabels[idx]) {
    addRot(tempLabels[idx], 1213);
    addRot(timeLabels[idx], 1176);
  } else {
    addRot(tempLabels[idx], 1184);
  }
});

// axis titles
const yTitle = document.createElement('div');
yTitle.className = 'lbl';
yTitle.textContent = 'Intensité (arb.)';
Object.assign(yTitle.style, { left: '28px', top: '791px', font: '31px "DejaVu Serif"', transform: 'translate(-50%, -50%) rotate(-90deg)' });
document.body.appendChild(yTitle);

const xTitle = document.createElement('div');
xTitle.className = 'lbl';
xTitle.textContent = 'Théta-2Théta (°)';
Object.assign(xTitle.style, { left: '630px', top: '1479px', font: '25px "DejaVu Serif"', transform: 'translate(-50%, -50%)' });
document.body.appendChild(xTitle);
</script>
</body>
</html>
